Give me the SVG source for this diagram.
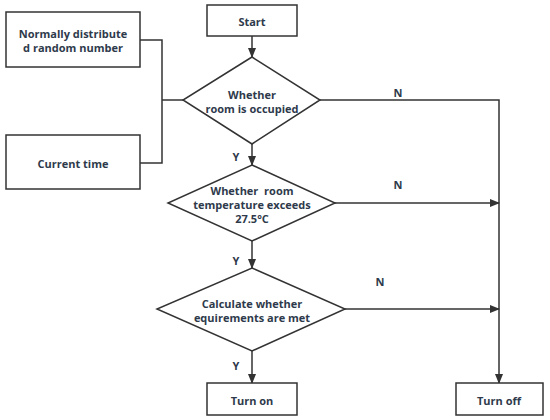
<svg xmlns="http://www.w3.org/2000/svg" width="550" height="420" viewBox="0 0 550 420">
<defs>
<marker id="ah" markerWidth="10" markerHeight="10" refX="9" refY="5" orient="auto" markerUnits="userSpaceOnUse">
<path d="M0,1 L10,5 L0,9 Z" fill="#333"/>
</marker>
<style>
.box{fill:#fff;stroke:#333;stroke-width:1.5}
.ln{fill:none;stroke:#333;stroke-width:1.5}
text{font-family:"Open Sans","Noto Sans",sans-serif;font-weight:bold;font-size:11px;fill:#2e3a4b;text-anchor:middle;dominant-baseline:central}
</style>
</defs>
<rect width="550" height="420" fill="#fff"/>
<g id="connectors">
<polyline class="ln" points="140,40 162,40 162,163 140,163"/>
<line class="ln" x1="162" y1="100" x2="183" y2="100"/>
<line class="ln" x1="252" y1="36" x2="252" y2="57" marker-end="url(#ah)"/>
<polyline class="ln" points="320,100 499,100 499,383" marker-end="url(#ah)"/>
<line class="ln" x1="252" y1="144" x2="252" y2="165" marker-end="url(#ah)"/>
<line class="ln" x1="335" y1="203" x2="499" y2="203" marker-end="url(#ah)"/>
<line class="ln" x1="252" y1="241" x2="252" y2="268" marker-end="url(#ah)"/>
<line class="ln" x1="345" y1="309" x2="499" y2="309" marker-end="url(#ah)"/>
<line class="ln" x1="252" y1="351" x2="252" y2="383" marker-end="url(#ah)"/>
<text x="398" y="92">N</text>
<text x="398" y="184">N</text>
<text x="380" y="281">N</text>
<text x="236" y="156">Y</text>
<text x="236" y="260">Y</text>
<text x="236" y="365">Y</text>
</g>
<g id="random">
<rect class="box" x="6" y="12" width="134" height="55"/>
<text x="73" y="33">Normally distribute</text>
<text x="73" y="47">d random number</text>
</g>
<g id="time">
<rect class="box" x="6" y="135" width="134" height="54"/>
<text x="73" y="163">Current time</text>
</g>
<g id="start">
<rect class="box" x="207" y="5" width="90" height="31"/>
<text x="252" y="21">Start</text>
</g>
<g id="occupied">
<polygon class="box" points="252,57 320,100 252,144 183,100"/>
<text x="252" y="94">Whether</text>
<text x="252" y="108">room is occupied</text>
</g>
<g id="temperature">
<polygon class="box" points="252,165 335,203 252,241 168,203"/>
<text x="252" y="190" xml:space="preserve">Whether  room</text>
<text x="252" y="204">temperature exceeds</text>
<text x="252" y="218">27.5°C</text>
</g>
<g id="requirements">
<polygon class="box" points="252,268 345,309 252,351 157,309"/>
<text x="252" y="303">Calculate whether</text>
<text x="252" y="317">equirements are met</text>
</g>
<g id="turnon">
<rect class="box" x="207" y="383" width="90" height="32"/>
<text x="252" y="400">Turn on</text>
</g>
<g id="turnoff">
<rect class="box" x="456" y="383" width="87" height="32"/>
<text x="499" y="400">Turn off</text>
</g>
</svg>
